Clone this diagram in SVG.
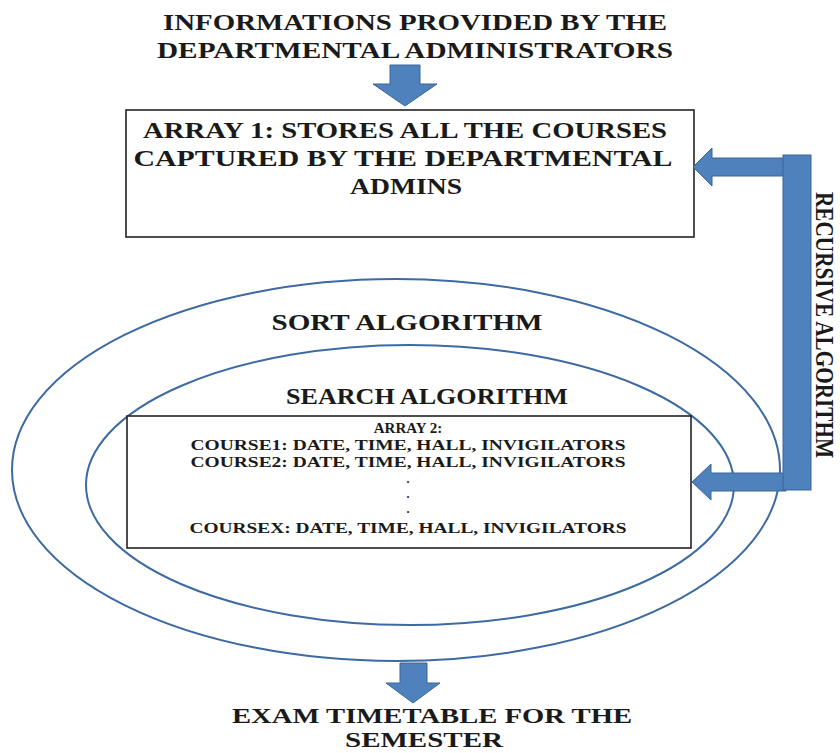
<svg xmlns="http://www.w3.org/2000/svg" width="840" height="753" viewBox="0 0 840 753">
<style>
  .t{font-family:"Liberation Serif","Times New Roman",serif;font-weight:bold;fill:#1a1a1a;text-anchor:middle}
  .box{fill:#fff;stroke:#222;stroke-width:1.6}
  .ell{fill:none;stroke:#3d6aa3;stroke-width:2}
  .arr{fill:#4f81bd;stroke:#3b6597;stroke-width:1}
</style>
<rect width="840" height="753" fill="#fff"/>
<g id="sort-algorithm">
  <ellipse class="ell" cx="396" cy="470" rx="384" ry="191"/>
  <text class="t" x="407" y="330" font-size="23" textLength="271" lengthAdjust="spacingAndGlyphs">SORT ALGORITHM</text>
</g>
<g id="search-algorithm">
  <ellipse class="ell" cx="410" cy="485" rx="324" ry="140"/>
  <text class="t" x="427" y="404" font-size="23" textLength="282" lengthAdjust="spacingAndGlyphs">SEARCH ALGORITHM</text>
</g>
<g id="title">
  <text class="t" x="415" y="30" font-size="24" textLength="504" lengthAdjust="spacingAndGlyphs">INFORMATIONS PROVIDED BY THE</text>
  <text class="t" x="415" y="58" font-size="24" textLength="516" lengthAdjust="spacingAndGlyphs">DEPARTMENTAL ADMINISTRATORS</text>
</g>
<g id="array1">
  <rect class="box" x="126" y="110" width="568" height="127"/>
  <text class="t" x="405" y="138" font-size="24" textLength="524" lengthAdjust="spacingAndGlyphs">ARRAY 1: STORES ALL THE COURSES</text>
  <text class="t" x="403" y="166" font-size="24" textLength="539" lengthAdjust="spacingAndGlyphs">CAPTURED BY THE DEPARTMENTAL</text>
  <text class="t" x="406" y="194" font-size="24" textLength="112" lengthAdjust="spacingAndGlyphs">ADMINS</text>
</g>
<g id="array2">
  <rect class="box" x="127" y="416" width="564" height="132"/>
  <text class="t" x="408" y="433" font-size="15">ARRAY 2:</text>
  <text class="t" x="408" y="450" font-size="15" textLength="435" lengthAdjust="spacingAndGlyphs">COURSE1: DATE, TIME, HALL, INVIGILATORS</text>
  <text class="t" x="408" y="467" font-size="15" textLength="435" lengthAdjust="spacingAndGlyphs">COURSE2: DATE, TIME, HALL, INVIGILATORS</text>
  <text class="t" x="408" y="483" font-size="12">.</text>
  <text class="t" x="408" y="498" font-size="12">.</text>
  <text class="t" x="408" y="513" font-size="12">.</text>
  <text class="t" x="408" y="533" font-size="15" textLength="437" lengthAdjust="spacingAndGlyphs">COURSEX: DATE, TIME, HALL, INVIGILATORS</text>
</g>
<g id="output">
  <text class="t" x="432" y="723" font-size="22" textLength="400" lengthAdjust="spacingAndGlyphs">EXAM TIMETABLE FOR THE</text>
  <text class="t" x="424" y="747" font-size="22" textLength="158" lengthAdjust="spacingAndGlyphs">SEMESTER</text>
</g>
<g id="recursive-label">
  <text class="t" transform="translate(816,325) rotate(90)" x="0" y="0" font-size="26" textLength="266" lengthAdjust="spacingAndGlyphs">RECURSIVE ALGORITHM</text>
</g>
<g id="connectors">
  <polygon class="arr" points="390,65 420,65 420,84 437,84 405,106 373,84 390,84"/>
  <polygon class="arr" points="400,663 427,663 427,683 440,683 413,703 386,683 400,683"/>
  <polygon class="arr" points="786,158 712,158 712,148 693,167 712,186 712,176 786,176"/>
  <polygon class="arr" points="786,473 711,473 711,464 692,482 711,500 711,491 786,491"/>
  <rect class="arr" x="783" y="155" width="28" height="335"/>
</g>
</svg>
